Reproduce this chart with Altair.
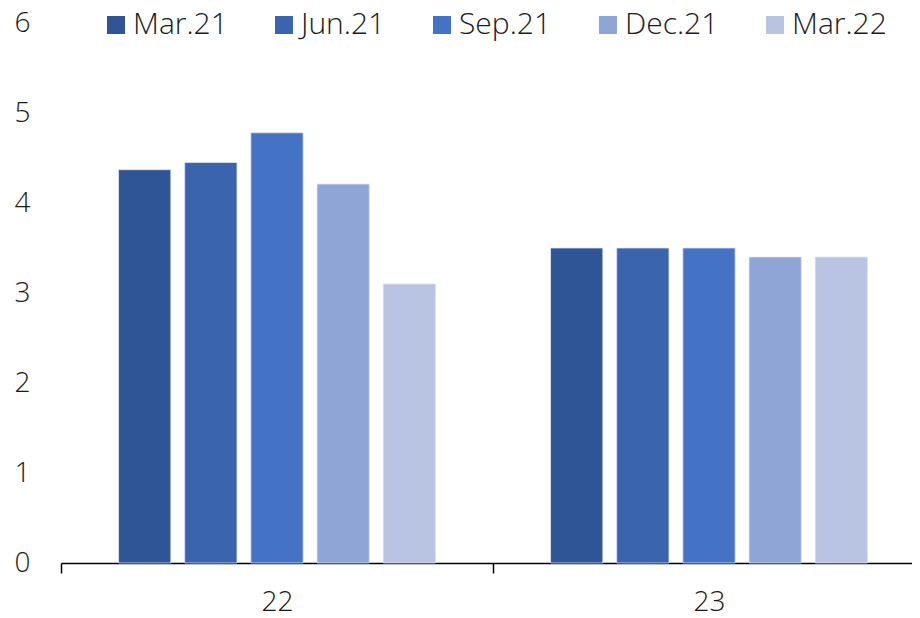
import altair as alt
import pandas as pd

categories = ["22", "23"]
series = ["Mar.21", "Jun.21", "Sep.21", "Dec.21", "Mar.22"]
values_22 = [4.37, 4.45, 4.78, 4.21, 3.10]
values_23 = [3.50, 3.50, 3.50, 3.40, 3.40]
colors = ["#2F5597", "#3A64AD", "#4472C4", "#8FA5D5", "#B9C4E3"]

rows = []
for cat, vals in zip(categories, [values_22, values_23]):
    for s, v in zip(series, vals):
        rows.append({"cat": cat, "series": s, "value": v})
df = pd.DataFrame(rows)

FONT = "Open Sans"
FS = 28
TXT = "#1a1a1a"

chart = alt.Chart(df).mark_bar(stroke="#DCE3F2", strokeWidth=0.8).encode(
    x=alt.X("cat:N", sort=categories, title=None,
            scale=alt.Scale(range=[0, 864], paddingInner=0, paddingOuter=0),
            axis=alt.Axis(labelAngle=0, domainColor="#000000", domainWidth=1.5,
                          tickColor="#000000", tickWidth=1.5, tickSize=10,
                          tickBand="extent", labelPadding=15,
                          labelFontSize=FS, labelFont=FONT, labelFontWeight=300,
                          labelColor=TXT, grid=False)),
    xOffset=alt.XOffset("series:N", sort=series,
                        scale=alt.Scale(paddingInner=0.21, paddingOuter=0.87)),
    y=alt.Y("value:Q", title=None,
            scale=alt.Scale(domain=[0, 6], nice=False),
            axis=alt.Axis(values=[0, 1, 2, 3, 4, 5, 6], domain=False, ticks=False,
                          grid=False, labelPadding=31, labelFontSize=FS,
                          labelFont=FONT, labelFontWeight=300, labelColor=TXT)),
    color=alt.Color("series:N", sort=series,
                    scale=alt.Scale(domain=series, range=colors),
                    legend=alt.Legend(title=None, orient="none", direction="horizontal",
                                      legendX=40, legendY=-13, padding=0,
                                      symbolType="square", symbolSize=324,
                                      symbolStrokeWidth=0, labelOffset=2,
                                      columnPadding=41, labelFontSize=30,
                                      labelFont=FONT, labelFontWeight=300,
                                      labelColor=TXT)),
).properties(
    width=851, height=540,
    autosize=alt.AutoSizeParams(type="none"),
    padding={"left": 53, "top": 15, "right": 0, "bottom": 55},
).configure_view(stroke=None)

chart.save("out.html", embed_options={"renderer": "svg", "actions": False})
